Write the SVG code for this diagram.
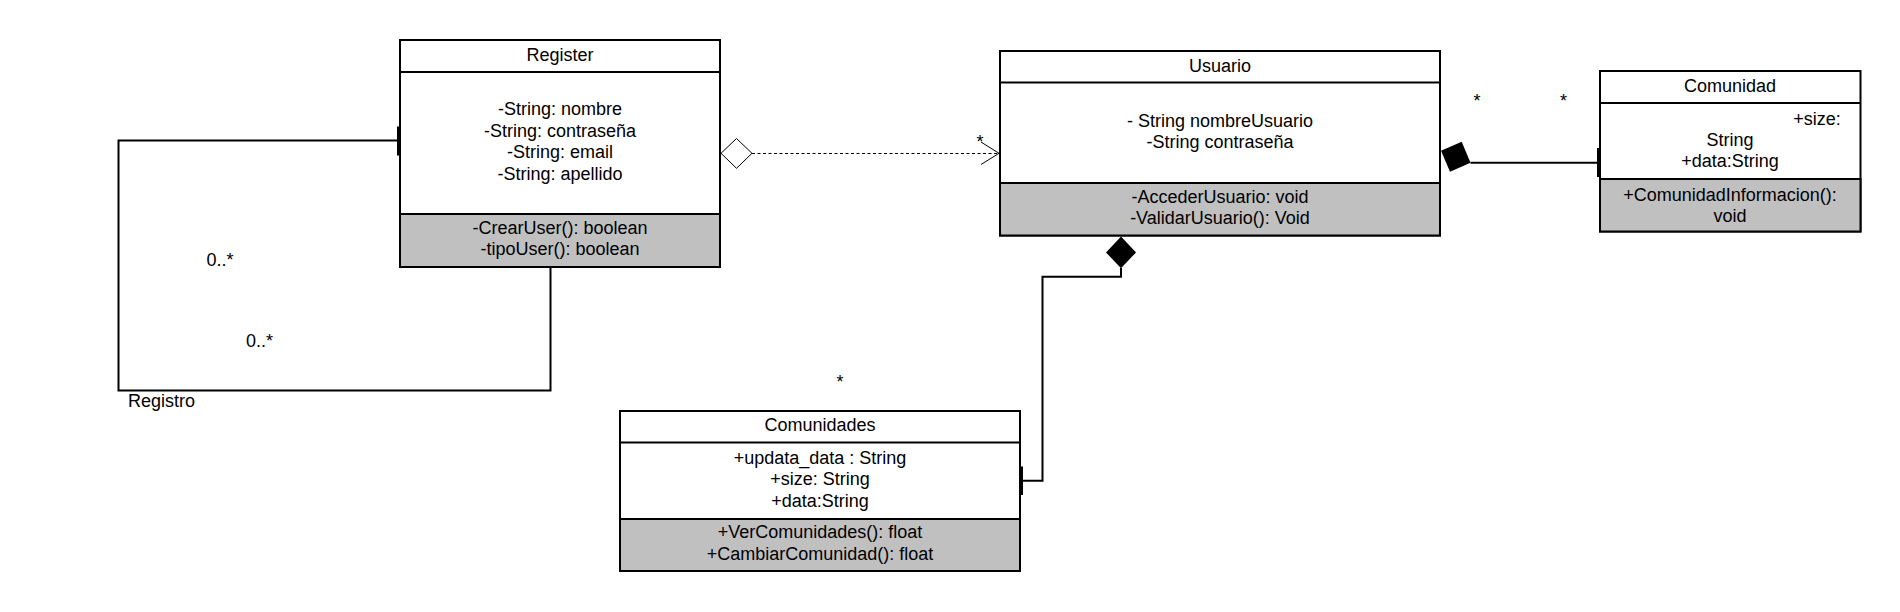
<svg xmlns="http://www.w3.org/2000/svg" width="1900" height="612" viewBox="0 0 1900 612">
<style>
text{font-family:"Liberation Sans",Arial,sans-serif;font-size:18px;fill:#000}
.c{text-anchor:middle}
.box{fill:#fff;stroke:#000;stroke-width:2}
.meth{fill:#c0c0c0;stroke:#000;stroke-width:2}
.ln{fill:none;stroke:#000;stroke-width:2}
.dash{fill:none;stroke:#000;stroke-width:1;stroke-dasharray:3 2.5}
.thin{fill:none;stroke:#000;stroke-width:1}
</style>
<rect width="1900" height="612" fill="#fff"/>
<g id="connectors">
  <path class="ln" d="M400,140.5 H118.5 V390.5 H550.5 V267"/>
  <rect x="397" y="126.5" width="3" height="29" fill="#000"/>
  <path class="dash" d="M752,153.5 H998"/>
  <polygon class="thin" points="721,153.3 736.5,138.5 752,153.3 736.5,168.3" fill="#fff"/>
  <path class="thin" d="M981,142 L999,153.3 L981,164.5"/>
  <path class="ln" d="M1470.5,162.7 H1600"/>
  <polygon points="1441,150.7 1461.7,141.7 1470.5,162.7 1450,171.7" fill="#000"/>
  <rect x="1597" y="148" width="3" height="29" fill="#000"/>
  <path class="ln" d="M1121,268 V276.7 H1042.5 V480.7 H1020"/>
  <polygon points="1121,236.5 1136,252.4 1121,268.3 1106,252.4" fill="#000"/>
  <rect x="1020" y="466.5" width="3" height="28.5" fill="#000"/>
</g>
<g id="labels">
  <text x="496" y="127.5" class="c">*</text>
  <text x="980" y="148" class="c">*</text>
  <text x="1477" y="107" class="c">*</text>
  <text x="1563.5" y="107" class="c">*</text>
  <text x="840" y="388" class="c">*</text>
  <text x="220" y="266" class="c">0..*</text>
  <text x="259.5" y="346.5" class="c">0..*</text>
  <text x="128" y="406.5">Registro</text>
</g>
<g id="Register">
  <rect class="box" x="400" y="40" width="320" height="227"/>
  <rect class="meth" x="400" y="214" width="320" height="53"/>
  <line class="ln" x1="400" y1="72" x2="720" y2="72"/>
  <text x="560" y="60.5" class="c">Register</text>
  <text x="560" y="115" class="c">-String: nombre</text>
  <text x="560" y="136.6" class="c">-String: contraseña</text>
  <text x="560" y="158.2" class="c">-String: email</text>
  <text x="560" y="179.8" class="c">-String: apellido</text>
  <text x="560" y="233.5" class="c">-CrearUser(): boolean</text>
  <text x="560" y="255.1" class="c">-tipoUser(): boolean</text>
</g>
<g id="Usuario">
  <rect class="box" x="1000" y="51" width="440" height="184.5"/>
  <rect class="meth" x="1000" y="183" width="440" height="52.5"/>
  <line class="ln" x1="1000" y1="82.5" x2="1440" y2="82.5"/>
  <text x="1220" y="71.5" class="c">Usuario</text>
  <text x="1220" y="126.5" class="c">- String nombreUsuario</text>
  <text x="1220" y="148" class="c">-String contraseña</text>
  <text x="1220" y="202.5" class="c">-AccederUsuario: void</text>
  <text x="1220" y="224.1" class="c">-ValidarUsuario(): Void</text>
</g>
<g id="Comunidad">
  <rect class="box" x="1600" y="71" width="260.5" height="160.5"/>
  <rect class="meth" x="1600" y="179" width="260.5" height="52.5"/>
  <line class="ln" x1="1600" y1="103" x2="1860.5" y2="103"/>
  <text x="1730" y="91.5" class="c">Comunidad</text>
  <text x="1817" y="124.5" class="c">+size:</text>
  <text x="1730" y="145.5" class="c">String</text>
  <text x="1730" y="166.5" class="c">+data:String</text>
  <text x="1730" y="200.5" class="c">+ComunidadInformacion():</text>
  <text x="1730" y="222" class="c">void</text>
</g>
<g id="Comunidades">
  <rect class="box" x="620" y="411" width="400" height="160"/>
  <rect class="meth" x="620" y="519" width="400" height="52"/>
  <line class="ln" x1="620" y1="442.5" x2="1020" y2="442.5"/>
  <text x="820" y="430.7" class="c">Comunidades</text>
  <text x="820" y="463.8" class="c">+updata_data : String</text>
  <text x="820" y="485.4" class="c">+size: String</text>
  <text x="820" y="507" class="c">+data:String</text>
  <text x="820" y="538.2" class="c">+VerComunidades(): float</text>
  <text x="820" y="559.8" class="c">+CambiarComunidad(): float</text>
</g>
</svg>
